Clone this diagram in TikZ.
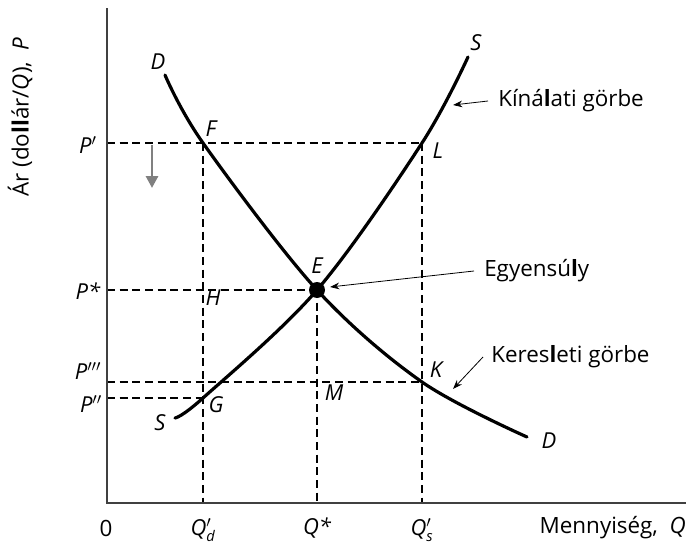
\documentclass[tikz,border=0pt]{standalone}
\usepackage{fontspec}
\setmainfont{Open Sans}
\usetikzlibrary{arrows.meta}
\newcommand{\subit}[1]{\mbox{\fontsize{11}{12}\selectfont\itshape #1}}
\begin{document}
\begin{tikzpicture}[x=0.75pt,y=-0.75pt,
  lbl/.style={font=\fontsize{16.5}{19}\selectfont\itshape,inner sep=0pt},
  txt/.style={font=\fontsize{16.8}{19}\selectfont,inner sep=0pt},
  curve/.style={line width=2.4pt,line cap=round},
  guide/.style={dashed,line width=0.8pt,dash pattern=on 6pt off 3.5pt},
  ann/.style={line width=0.6pt,-{Stealth[length=7pt,width=5pt]}},
  axis/.style={line width=1.1pt,draw=black!75}]
\useasboundingbox (0,0) rectangle (686,546);
% key points
\coordinate (O) at (107,503);
\coordinate (Ytop) at (107,8);
\coordinate (Xend) at (686,503);
\coordinate (F) at (203,143);
\coordinate (L) at (422,143);
\coordinate (E) at (317,290);
\coordinate (K) at (422,382);
\coordinate (G) at (203,398);
\coordinate (Pp) at (107,143);
\coordinate (Ps) at (107,290);
\coordinate (Ppp) at (107,382);
\coordinate (Pdd) at (107,398);
\coordinate (Qd) at (203,503);
\coordinate (Qs) at (317,503);
\coordinate (Qsp) at (422,503);
% guides
\draw[guide] (Pp) -- (L);
\draw[guide] (F) -- (Qd);
\draw[guide] (L) -- (Qsp);
\draw[guide] (Ps) -- (E);
\draw[guide] (E) -- (Qs);
\draw[guide] (Ppp) -- (K);
\draw[guide] (Pdd) -- (G);
% axes
\draw[axis] (Ytop) -- (O) -- (Xend);
% curves
\draw[curve] plot[smooth,tension=0.55] coordinates {(165,75) (F) (E) (K) (527,437)};
\draw[curve] plot[smooth,tension=0.55] coordinates {(175,418) (G) (E) (L) (468,57)};
\fill (E) circle (8);
% gray arrow
\coordinate (ga) at (152,145);
\coordinate (gb) at (152,188);
\draw[draw=black!50,line width=2.2pt,-{Triangle[length=9pt,width=9pt]}] (ga) -- (gb);
% curve labels
\node[lbl] (Dt) at (158,62) {D};
\node[lbl] (Db) at (549,441) {D};
\node[lbl] (St) at (476,43) {S};
\node[lbl] (Sb) at (160,423) {S};
\node[lbl] (Fl) at (211,129) {F};
\node[lbl] (Ll) at (438,151) {L};
\node[lbl] (El) at (317,266) {E};
\node[lbl] (Hl) at (213,298) {H};
\node[lbl] (Kl) at (436,370) {K};
\node[lbl] (Ml) at (334,393) {M};
\node[lbl] (Gl) at (216,405) {G};
% axis labels
\node[lbl] (P1) at (88,145) {P$'$};
\node[lbl] (P2) at (88,291) {P*};
\node[lbl] (P3) at (88,371) {P$'''$};
\node[lbl] (P4) at (91,404) {P$''$};
\node[txt] (zero) at (106,528) {0};
\node[lbl] (Q1) at (203,530) {Q$'_{\subit{d}}$};
\node[lbl] (Q2) at (317,528) {Q*};
\node[lbl] (Q3) at (422,530) {Q$'_{\subit{s}}$};
\node[txt,anchor=east] (xl) at (686,528) {Mennyiség,\ \ \textit{Q}};
\node[txt,rotate=90] (yl) at (20,117) {Ár (do{\bfseries ll}ár/\textit{Q}),\ \ \textit{P}};
% annotations
\node[txt,anchor=west] (kin) at (498,101) {Kíná{\bfseries l}ati görbe};
\node[txt,anchor=west] (egy) at (484,271) {Egyensú{\bfseries l}y};
\node[txt,anchor=west] (ker) at (491,357) {Keres{\bfseries l}eti görbe};
\coordinate (kinT) at (453,105);
\coordinate (egyT) at (330,287);
\coordinate (kerT) at (453,389);
\draw[ann] (kin.west) ++(-10,0) -- (kinT);
\draw[ann] (egy.west) ++(-10,0) -- (egyT);
\draw[ann] (ker.west) ++(-8,0) -- (kerT);
\end{tikzpicture}
\end{document}
